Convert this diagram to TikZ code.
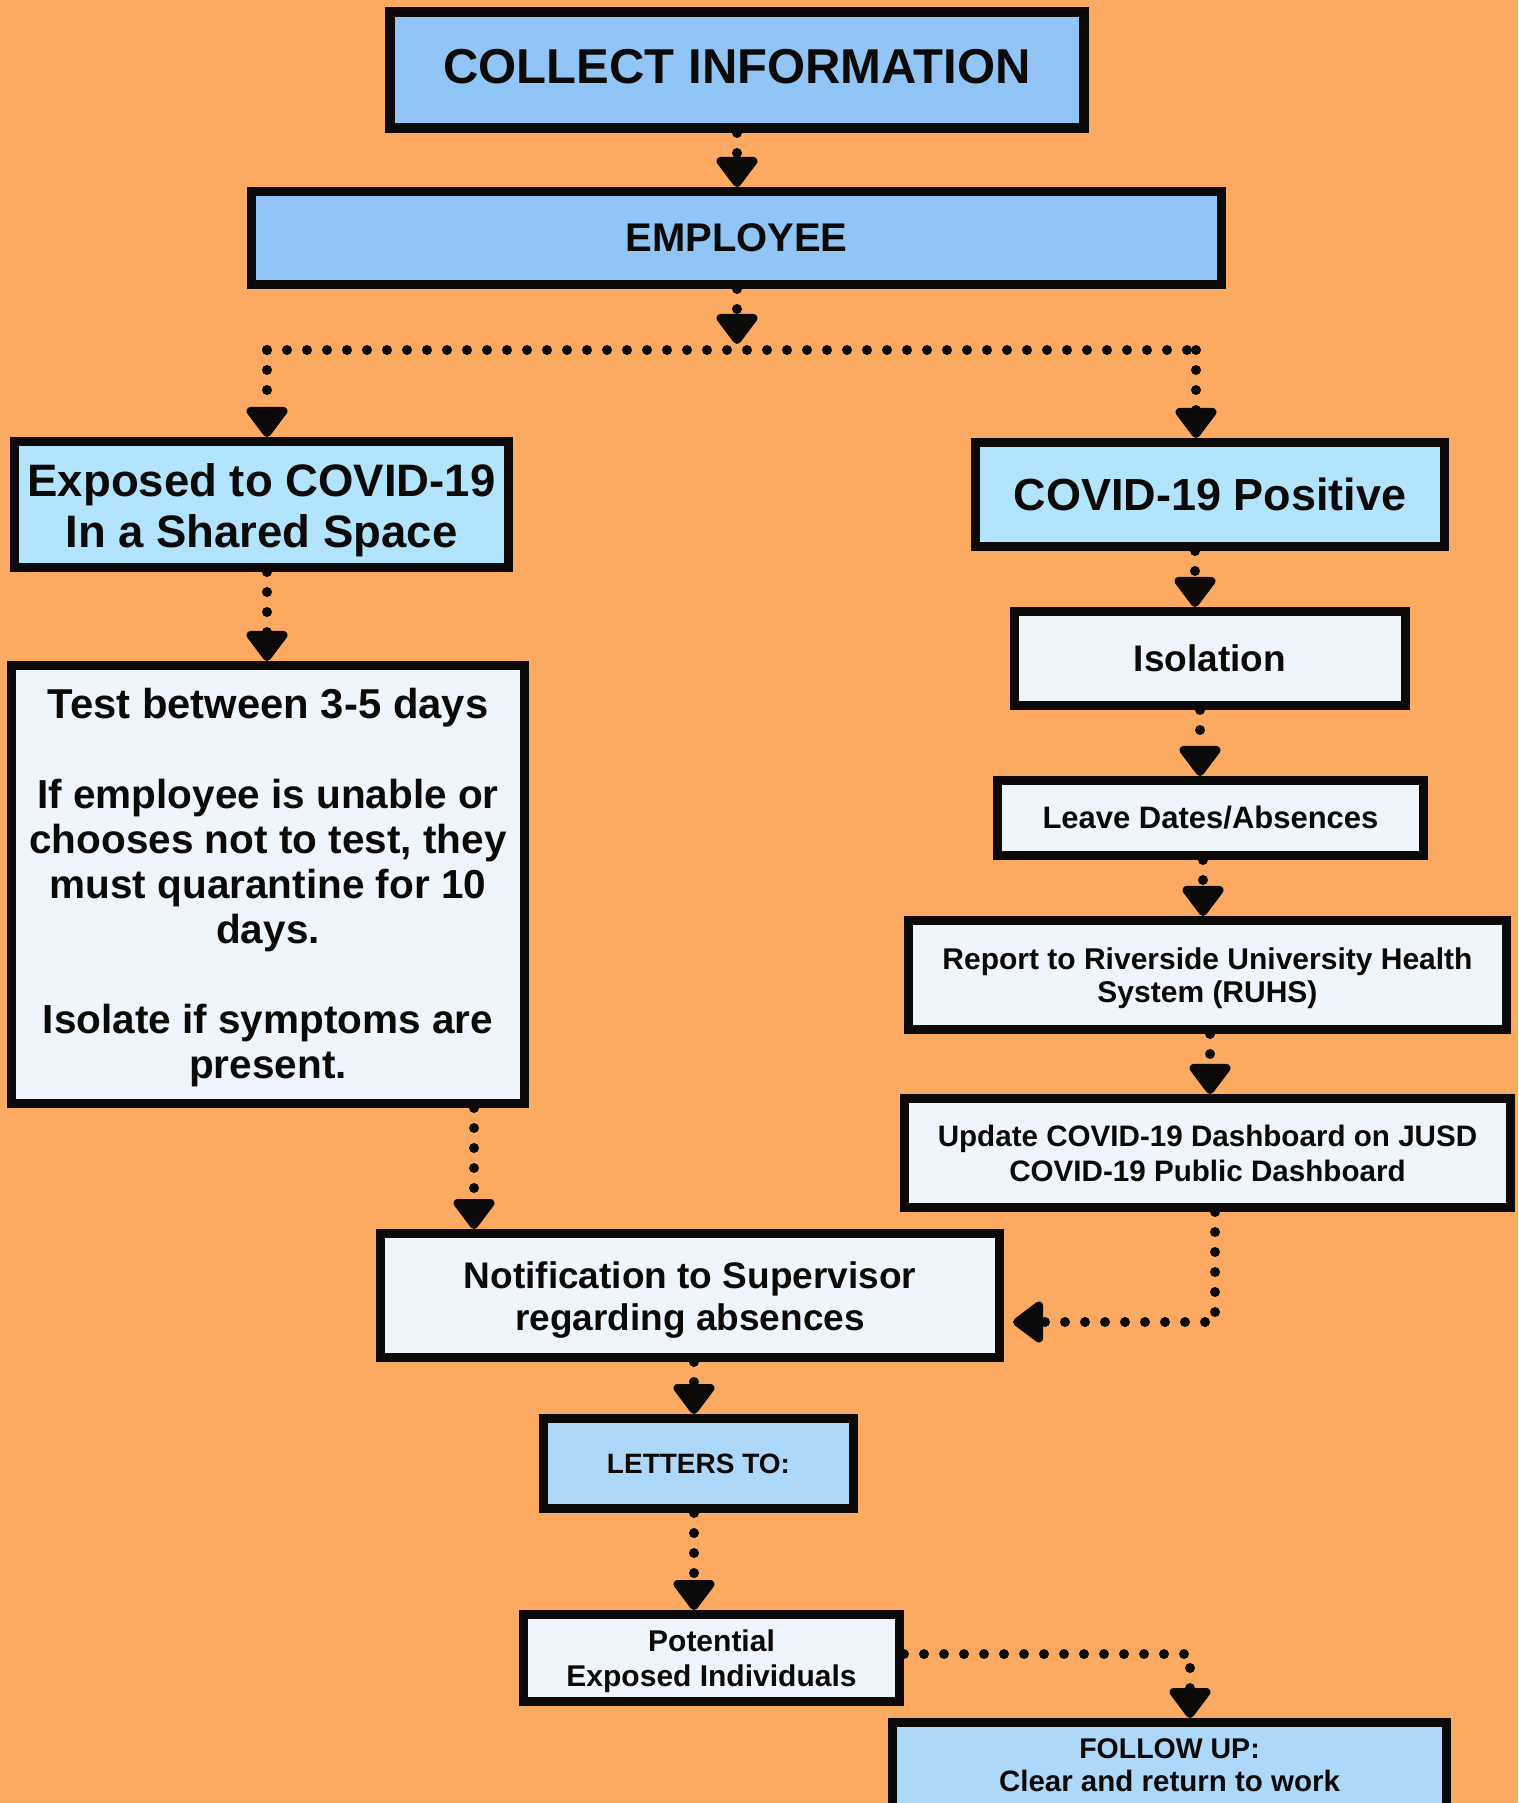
\documentclass[tikz,border=0pt]{standalone}
\usepackage{fontspec}
\setmainfont{Liberation Sans}
\usetikzlibrary{arrows.meta}
\definecolor{bg}{RGB}{252,169,98}
\definecolor{ink}{RGB}{12,10,8}
\definecolor{blueA}{RGB}{144,197,246}
\definecolor{blueB}{RGB}{179,228,253}
\definecolor{blueC}{RGB}{173,216,250}
\definecolor{pale}{RGB}{239,245,252}
\newcommand{\fs}[2]{\fontsize{#1}{#2}\selectfont}
% invisible struts used to fine-tune the vertical placement of text
\newcommand{\tallstrut}[1]{\rule{0pt}{#1}}
\newcommand{\deepstrut}[1]{\rule[-#1]{0pt}{#1}}
\begin{document}
\begin{tikzpicture}[x=1pt,y=-1pt,
  box/.style={draw=ink, line width=9pt, align=center, inner sep=0pt, text=ink},
  fnt/.style 2 args={font=\bfseries\fs{#1}{#2}},
  dotline/.style={draw=ink, line width=10pt, line cap=round, dash pattern=on 0pt off 20pt},
  arrowed/.style={-{Triangle[width=47pt,length=33pt,round]}},
]
\clip (0,0) rectangle (1518,1803);
\useasboundingbox (0,0) rectangle (1518,1803);
\fill[bg] (0,0) rectangle (1518,1803);

% boxes
\node[box, line width=10pt, fill=blueA, minimum width=694pt, minimum height=116pt, fnt={49}{55}] (collect) at (737,70) {COLLECT INFORMATION\deepstrut{7pt}};
\node[box, fill=blueA, minimum width=970pt, minimum height=93pt, fnt={40}{46}] (employee) at (736.5,238) {EMPLOYEE};
\node[box, fill=blueB, minimum width=494pt, minimum height=126pt, fnt={45.5}{51}] (exposed) at (261.5,504.5) {\tallstrut{45pt}Exposed to COVID-19\\In a Shared Space};
\node[box, fill=pale, minimum width=513pt, minimum height=438pt, fnt={40.5}{45}] (test) at (268,884.5) {\tallstrut{37pt}\fs{41.8}{45}Test between 3-5 days\\[45pt]If employee is unable or\\chooses not to test, they\\must quarantine for 10\\days.\\[45pt]Isolate if symptoms are\\present.};
\node[box, fill=blueB, minimum width=469pt, minimum height=104pt, fnt={45}{51}] (covid) at (1210,494.5) {COVID-19 Positive};
\node[box, fill=pale, minimum width=391pt, minimum height=94pt, fnt={37}{42}] (iso) at (1210,658.5) {Isolation};
\node[box, fill=pale, minimum width=426pt, minimum height=75pt, fnt={31}{35}] (leave) at (1210.5,818) {Leave Dates/Absences};
\node[box, fill=pale, minimum width=598pt, minimum height=109pt, fnt={30}{33}] (report) at (1207.5,975) {\tallstrut{29pt}Report to Riverside University Health\\System (RUHS)};
\node[box, fill=pale, minimum width=606pt, minimum height=109pt, fnt={29.6}{35}] (update) at (1207.5,1153) {Update COVID-19 Dashboard on JUSD\\COVID-19 Public Dashboard};
\node[box, fill=pale, minimum width=619pt, minimum height=124pt, fnt={37}{42}] (notif) at (690,1295.5) {\tallstrut{35pt}Notification to Supervisor\\regarding absences};
\node[box, fill=blueC, minimum width=310pt, minimum height=90pt, fnt={28}{33}] (letters) at (698.5,1463.5) {LETTERS TO:};
\node[box, fill=pale, minimum width=376pt, minimum height=87pt, fnt={30}{35}] (pot) at (711.5,1658) {\tallstrut{29pt}Potential\\Exposed Individuals};
\node[box, fill=blueC, minimum width=554pt, minimum height=85pt, fnt={29.5}{33}] (fu) at (1169.5,1765) {\fs{28.5}{33}FOLLOW UP:\\Clear and return to work};

% helper coordinates
\coordinate (jtip) at (737,344);
\coordinate (hl) at (267,350);
\coordinate (hr) at (1196,350);
\coordinate (xn) at (474,0);
\coordinate (xf) at (1195,0);
\coordinate (xg) at (1200,0);
\coordinate (xh) at (1203,0);
\coordinate (xi) at (1210,0);
\coordinate (xl) at (694,0);
\coordinate (c1) at (1215,1322);
\coordinate (pc) at (1190,1654);

% connectors
\draw[dotline, arrowed] (collect.south) -- (collect.south |- employee.north);
\draw[dotline, arrowed] (employee.south -| jtip) -- (jtip);
\draw[dotline] (hl) -- (hr);
\draw[dotline, arrowed] (hl) -- (hl |- exposed.north);
\draw[dotline, arrowed] (hr) -- (hr |- covid.north);
\draw[dotline, arrowed] (exposed.south -| hl) -- (test.north -| hl);
\draw[dotline, arrowed] (test.south -| xn) -- (notif.north -| xn);
\draw[dotline, arrowed] (covid.south -| xf) -- (iso.north -| xf);
\draw[dotline, arrowed] (iso.south -| xg) -- (leave.north -| xg);
\draw[dotline, arrowed] (leave.south -| xh) -- (report.north -| xh);
\draw[dotline, arrowed] (report.south -| xi) -- (update.north -| xi);
\draw[dotline, arrowed, shorten >=9pt] (c1 |- update.south) -- (c1) -- (notif.east |- c1);
\draw[dotline, arrowed] (notif.south -| xl) -- (letters.north -| xl);
\draw[dotline, arrowed] (letters.south -| xl) -- (pot.north -| xl);
\draw[dotline, arrowed] (pot.east |- pc) -- (pc) -- (pc |- fu.north);
\end{tikzpicture}
\end{document}
